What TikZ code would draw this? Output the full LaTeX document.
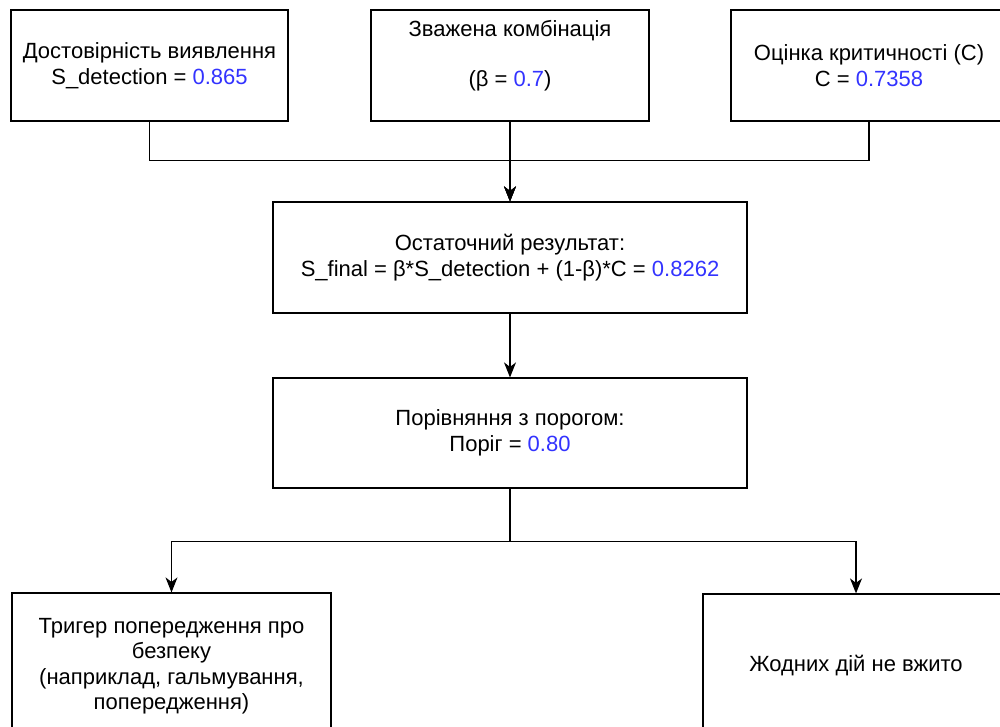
\documentclass[tikz,border=0pt]{standalone}
\usepackage{fontspec}
\setmainfont{Liberation Sans}
\usepackage{xcolor}
\usetikzlibrary{arrows.meta}
\definecolor{valblue}{RGB}{51,51,255}
\newcommand{\val}[1]{\textcolor{valblue}{#1}}

\begin{document}
\begin{tikzpicture}[x=1pt, y=-1pt, line width=1.2pt,
    every node/.style={rectangle, draw, align=center, inner sep=2pt, font=\fontsize{22}{25.5}\selectfont},
    link/.style={-{Stealth[length=15pt, width=12pt, inset=4.5pt]}}]
    \useasboundingbox (0,0) rectangle (1000,727);
    \clip (0,0) rectangle (1000,727);
    \node[minimum width=277pt, minimum height=111pt] (detect) at (149.5,65.5) {Достовірність виявлення\\S\_detection = \val{0.865}};
    \node[minimum width=278pt, minimum height=111pt, text depth=24pt] (weight) at (510,65.5) {Зважена комбінація\\[24pt](β = \val{0.7})};
    \node[minimum width=276pt, minimum height=111pt] (crit) at (869,65.5) {Оцінка критичності (C)\\C = \val{0.7358}};
    \node[minimum width=474pt, minimum height=111pt] (final) at (510,257.5) {Остаточний результат:\\S\_final = β*S\_detection + (1-β)*C = \val{0.8262}};
    \node[minimum width=474pt, minimum height=110pt] (compare) at (510,433) {Порівняння з порогом:\\Поріг = \val{0.80}};
    \node[minimum width=319pt, minimum height=146pt] (alarm) at (171.5,666) {Тригер попередження про\\безпеку\\(наприклад, гальмування,\\попередження)};
    \node[minimum width=306pt, minimum height=144pt] (noaction) at (856,666) {Жодних дій не вжито};
    % inputs merge into the final score
    \draw[link] (detect.south) -- ++(0,39) -| (final.north);
    \draw[link] (crit.south) -- ++(0,39) -| (final.north);
    \draw[link] (weight) -- (final);
    \draw[link] (final) -- (compare);
    % decision
    \draw[link] (compare.south) -- ++(0,53) -| (alarm.north);
    \draw[link] (compare.south) -- ++(0,53) -| (noaction.north);
\end{tikzpicture}
\end{document}
